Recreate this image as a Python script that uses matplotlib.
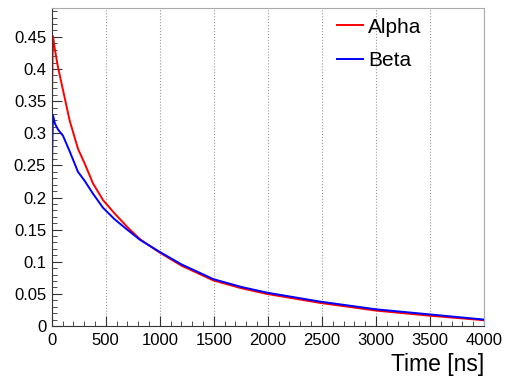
import numpy as np
import matplotlib.pyplot as plt
from matplotlib.ticker import MultipleLocator

plt.rcParams['font.family'] = ['Liberation Sans', 'DejaVu Sans']

# values
time_ns = [0, 4, 8, 12, 30, 58, 105, 166, 243, 305, 382, 475, 583, 706, 818,
           993, 1200, 1495, 1750, 1989, 2482, 3000, 3500, 4000]
alpha = [0.30, 0.37, 0.42, 0.451, 0.43, 0.403, 0.367, 0.320, 0.276, 0.253,
         0.222, 0.196, 0.175, 0.153, 0.135, 0.115, 0.094, 0.071, 0.059, 0.050,
         0.036, 0.024, 0.016, 0.009]
beta = [0.227, 0.26, 0.30, 0.328, 0.315, 0.306, 0.296, 0.272, 0.240, 0.226,
        0.206, 0.184, 0.166, 0.149, 0.134, 0.116, 0.096, 0.073, 0.061, 0.052,
        0.038, 0.026, 0.018, 0.010]

fig = plt.figure(figsize=(5.05, 3.8), dpi=100)
ax = fig.add_axes([51.7/505, 1-326/380, (484-51.7)/505, (326-8)/380])

ax.plot(time_ns, alpha, color='#ff0000', lw=1.4, label='Alpha')
ax.plot(time_ns, beta, color='#0000ff', lw=1.4, label='Beta')

ax.set_xlim(0, 4000)
ax.set_ylim(0, 0.495)

ax.xaxis.set_major_locator(MultipleLocator(500))
ax.xaxis.set_minor_locator(MultipleLocator(100))
ax.yaxis.set_minor_locator(MultipleLocator(0.01))
ax.set_yticks(np.arange(0, 0.46, 0.05))
ax.set_yticklabels(['0', '0.05', '0.1', '0.15', '0.2', '0.25', '0.3', '0.35', '0.4', '0.45'])
ax.tick_params(which='both', direction='in', top=False, right=False,
               labelsize=12, color='#333333')
ax.tick_params(which='major', length=7)
ax.tick_params(axis='x', which='major', pad=5)
ax.tick_params(axis='y', which='major', pad=4)
ax.tick_params(which='minor', length=3.5)

ax.xaxis.grid(True, which='major', ls=':', color='#999999', lw=0.8)

for side in ['top', 'right']:
    ax.spines[side].set_color('#aaaaaa')
for side in ['left', 'bottom']:
    ax.spines[side].set_color('#333333')

ax.set_xlabel('Time [ns]', fontsize=16.5, loc='right', labelpad=4)

ax.legend(loc='upper left', bbox_to_anchor=(0.66, 0.97), frameon=False,
          fontsize=15, handlelength=1.25, handletextpad=0.25, labelspacing=0.7,
          borderpad=0, borderaxespad=0)

fig.savefig('out.png', dpi=100)
